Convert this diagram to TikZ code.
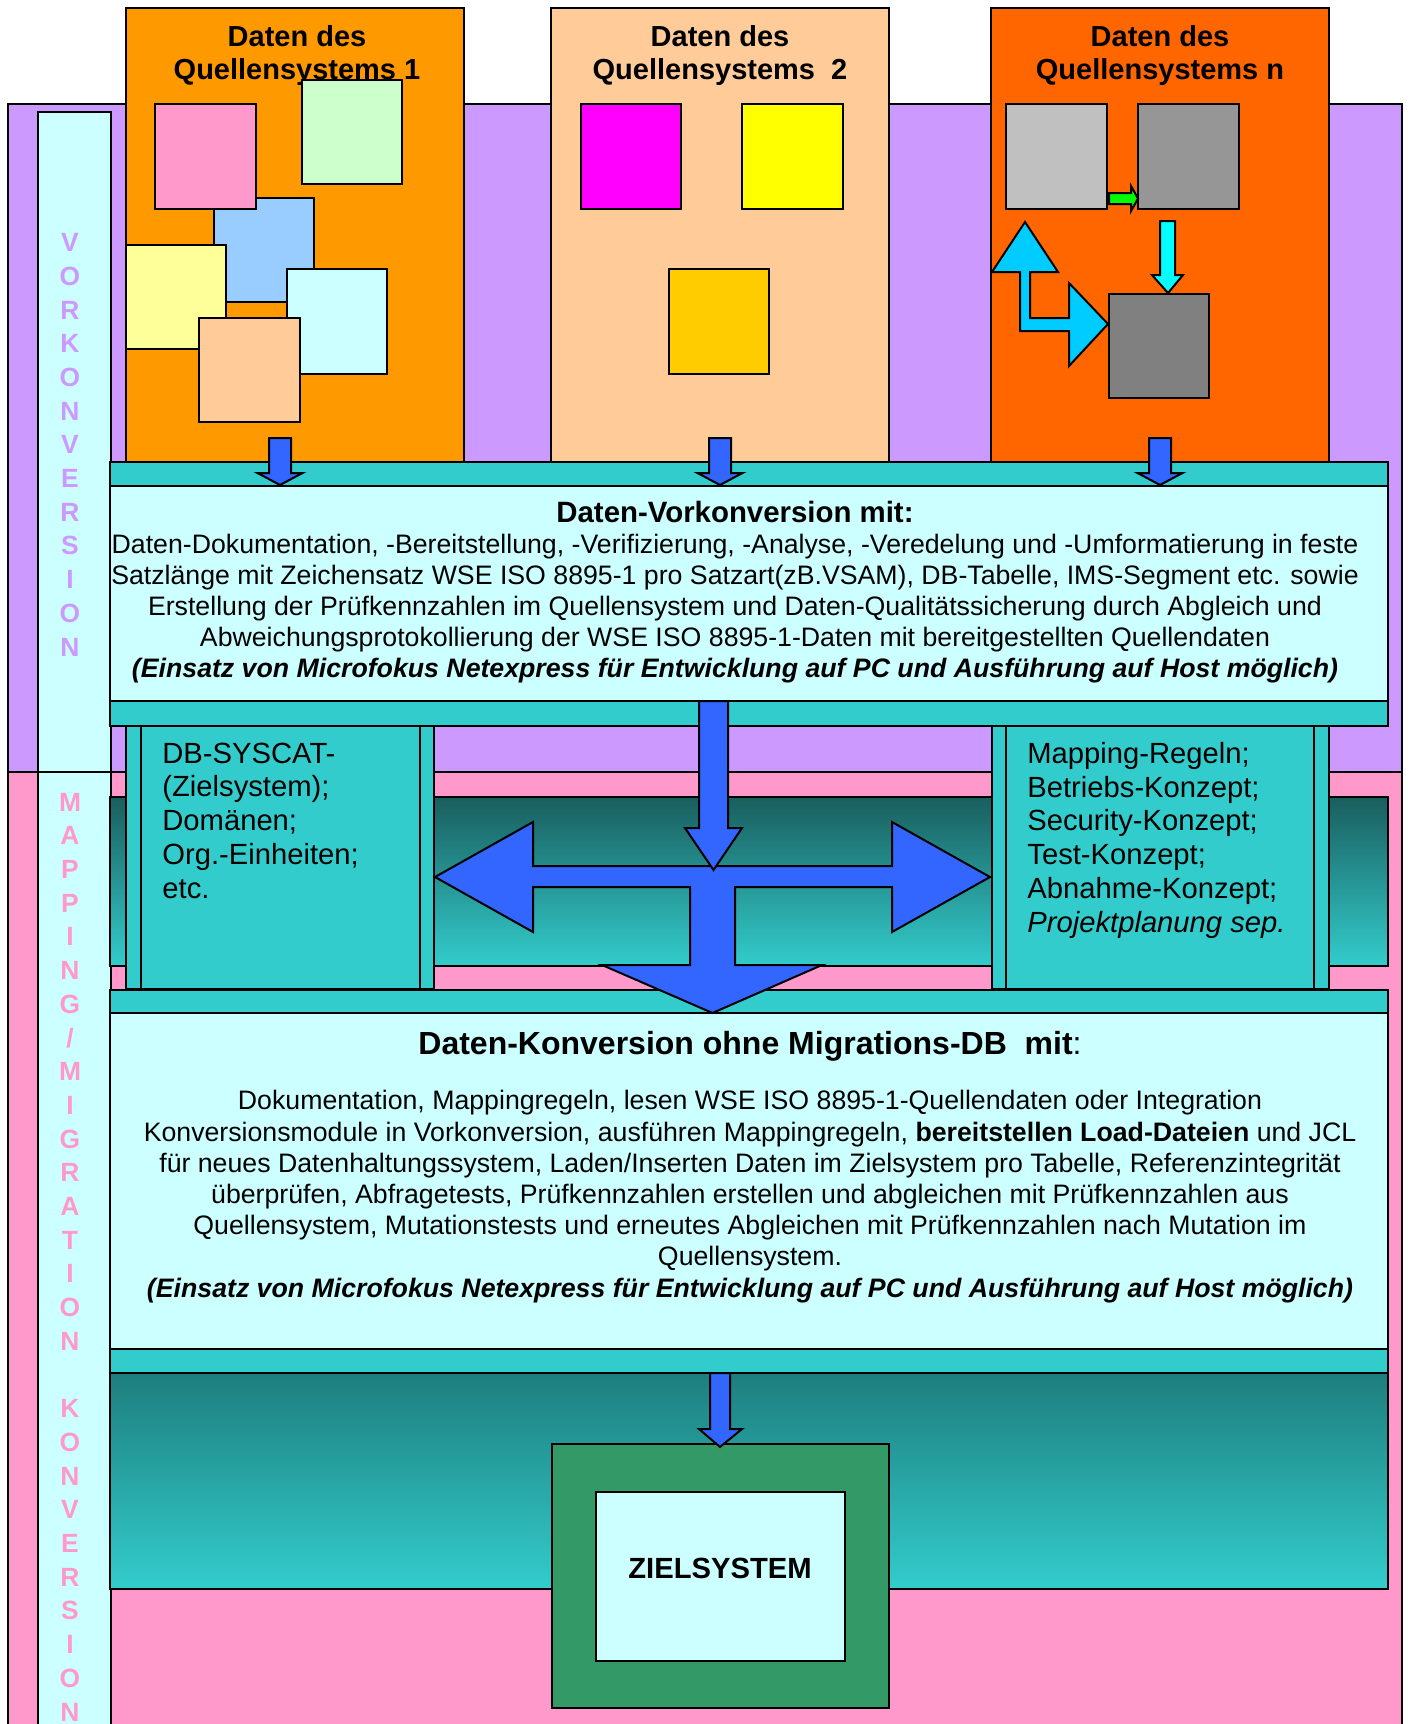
\documentclass[tikz,border=0pt]{standalone}
\usepackage{fontspec}
\setmainfont{Liberation Sans}
\definecolor{lila}{HTML}{CC99FF}
\definecolor{rosa}{HTML}{FF99CC}
\definecolor{hellcyan}{HTML}{CCFFFF}
\definecolor{tuerkis}{HTML}{33CCCC}
\definecolor{orangeA}{HTML}{FF9900}
\definecolor{pfirsich}{HTML}{FFCC99}
\definecolor{orangeN}{HTML}{FF6600}
\definecolor{hgruen}{HTML}{CCFFCC}
\definecolor{hblau}{HTML}{99CCFF}
\definecolor{hgelb}{HTML}{FFFF99}
\definecolor{magentaX}{HTML}{FF00FF}
\definecolor{gelbX}{HTML}{FFFF00}
\definecolor{goldX}{HTML}{FFCC00}
\definecolor{grauA}{HTML}{C0C0C0}
\definecolor{grauB}{HTML}{969696}
\definecolor{grauC}{HTML}{808080}
\definecolor{gruenPfeil}{HTML}{00FF00}
\definecolor{cyanPfeil}{HTML}{00FFFF}
\definecolor{himmel}{HTML}{00CCFF}
\definecolor{blauPfeil}{HTML}{3366FF}
\definecolor{zielgruen}{HTML}{339966}
\definecolor{dunkelA}{HTML}{1A5E5E}
\definecolor{dunkelB}{HTML}{1E7E7E}
\begin{document}
\begin{tikzpicture}[x=0.5pt,y=-0.5pt,line join=miter,
  box/.style={draw=black,line width=1pt},
  blockdown/.pic={\filldraw[box,fill=blauPfeil] (-11,0) -- (11,0) -- (11,35) -- (22.5,35) -- (0,47) -- (-22.5,35) -- (-11,35) -- cycle;},
  srctitle/.style={anchor=base,align=center,inner sep=0pt,font=\fontsize{14.5pt}{16.5pt}\selectfont\bfseries},
  vletters/.style={anchor=base,align=center,inner sep=0pt,font=\fontsize{13.2pt}{16.85pt}\selectfont\bfseries},
  coltext/.style={anchor=base west,align=left,inner sep=0pt,font=\fontsize{14.6pt}{16.85pt}\selectfont},
  bodytext/.style={anchor=base,align=center,inner sep=0pt}]
\useasboundingbox (0,0) rectangle (1409,1724);
\clip (0,0) rectangle (1409,1724);
\fill[white] (0,0) rectangle (1409,1724);
% backgrounds
\filldraw[box,fill=lila] (8,104) rectangle (1402,772);
\filldraw[box,fill=rosa] (8,772) rectangle (1402,1740);
\filldraw[box,fill=hellcyan] (38,112) rectangle (111,772);
\filldraw[box,fill=hellcyan] (38,772) rectangle (111,1740);
\node[vletters,text=lila] (vk) at (70,656) {V\\O\\R\\K\\O\\N\\V\\E\\R\\S\\I\\O\\N};
\node[vletters,text=rosa] (mk) at (70,1721) {M\\A\\P\\P\\I\\N\\G\\/\\M\\I\\G\\R\\A\\T\\I\\O\\N\\[16.85pt]K\\O\\N\\V\\E\\R\\S\\I\\O\\N};
% source systems
\filldraw[box,fill=orangeA] (126,8) rectangle (464,470);
\filldraw[box,fill=pfirsich] (551,8) rectangle (889,470);
\filldraw[box,fill=orangeN] (991,8) rectangle (1329,470);
\node[srctitle] (t1) at (297,79) {Daten des\\Quellensystems 1};
\node[srctitle] (t2) at (720,79) {Daten des\\Quellensystems\ \ 2};
\node[srctitle] (tn) at (1160,79) {Daten des\\Quellensystems n};
% system 1 boxes
\filldraw[box,fill=hblau] (214,198) rectangle (314,302);
\filldraw[box,fill=rosa] (155,104) rectangle (256,209);
\filldraw[box,fill=hgruen] (302,80) rectangle (402,184);
\filldraw[box,fill=hgelb] (126,245) rectangle (226,349);
\filldraw[box,fill=hellcyan] (287,269) rectangle (387,374);
\filldraw[box,fill=pfirsich] (199,318) rectangle (300,422);
% system 2 boxes
\filldraw[box,fill=magentaX] (581,104) rectangle (681,209);
\filldraw[box,fill=gelbX] (742,104) rectangle (843,209);
\filldraw[box,fill=goldX] (669,269) rectangle (769,374);
% system n boxes
\filldraw[box,fill=grauA] (1006,104) rectangle (1107,209);
\filldraw[box,fill=grauB] (1138,104) rectangle (1239,209);
\filldraw[box,fill=grauC] (1109,294) rectangle (1209,398);
\filldraw[box,fill=gruenPfeil] (1109,193) -- (1131,193) -- (1131,186) -- (1138,198.5) -- (1131,211) -- (1131,204) -- (1109,204) -- cycle;
\filldraw[box,fill=cyanPfeil] (1160,221) -- (1175,221) -- (1175,275) -- (1183,275) -- (1168,293) -- (1152,275) -- (1160,275) -- cycle;
\filldraw[box,fill=himmel] (1025,222) -- (1058,272) -- (1030,272) -- (1030,318) -- (1069,318) -- (1069,283) -- (1108,324) -- (1069,366) -- (1069,331) -- (1020,331) -- (1020,272) -- (992,272) -- cycle;
% middle band and columns
\shade[top color=dunkelA,bottom color=tuerkis] (110,797) rectangle (1388,966);
\draw[box] (110,797) rectangle (1388,966);
\filldraw[box,fill=tuerkis] (126,725) rectangle (434,989);
\draw[box] (141,725) -- (141,989) (420,725) -- (420,989);
\filldraw[box,fill=tuerkis] (992,725) rectangle (1329,989);
\draw[box] (1006,725) -- (1006,989) (1314,725) -- (1314,989);
\node[coltext] (cl) at (162,898) {DB-SYSCAT-\\(Zielsystem);\\Domänen;\\Org.-Einheiten;\\etc.};
\node[coltext] (cr) at (1027,932) {Mapping-Regeln;\\Betriebs-Konzept;\\Security-Konzept;\\Test-Konzept;\\Abnahme-Konzept;\\\textit{Projektplanung sep.}};
% Vorkonversion box
\filldraw[box,fill=tuerkis] (110,462) rectangle (1388,726);
\filldraw[box,fill=hellcyan] (110,486) rectangle (1388,701);
\node[bodytext,font=\fontsize{13.35pt}{15.5pt}\selectfont] (vtext) at (735,677) {{\fontsize{14.7pt}{15.5pt}\selectfont\bfseries Daten-Vorkonversion mit:}\\
Daten-Dokumentation, -Bereitstellung, -Verifizierung, -Analyse, -Veredelung und -Umformatierung in feste\\
Satzlänge mit Zeichensatz WSE ISO 8895-1 pro Satzart(zB.VSAM), DB-Tabelle, IMS-Segment etc. sowie\\
Erstellung der Prüfkennzahlen im Quellensystem und Daten-Qualitätssicherung durch Abgleich und\\
Abweichungsprotokollierung der WSE ISO 8895-1-Daten mit bereitgestellten Quellendaten\\
\textbf{\textit{(Einsatz von Microfokus Netexpress für Entwicklung auf PC und Ausführung auf Host möglich)}}};
\pic at (280,438) {blockdown};
\pic at (720,438) {blockdown};
\pic at (1160,438) {blockdown};
% Konversion box
\filldraw[box,fill=tuerkis] (110,990) rectangle (1388,1373);
\filldraw[box,fill=hellcyan] (110,1013) rectangle (1388,1349);
\node[bodytext,font=\fontsize{16pt}{18pt}\selectfont] (ktitle) at (750,1054) {\textbf{Daten-Konversion ohne Migrations-DB\ \ mit}:};
\node[bodytext,font=\fontsize{13.35pt}{15.6pt}\selectfont] (ktext) at (750,1297) {Dokumentation, Mappingregeln, lesen WSE ISO 8895-1-Quellendaten oder Integration\\
Konversionsmodule in Vorkonversion, ausführen Mappingregeln, \textbf{bereitstellen Load-Dateien} und JCL\\
für neues Datenhaltungssystem, Laden/Inserten Daten im Zielsystem pro Tabelle, Referenzintegrität\\
überprüfen, Abfragetests, Prüfkennzahlen erstellen und abgleichen mit Prüfkennzahlen aus\\
Quellensystem, Mutationstests und erneutes Abgleichen mit Prüfkennzahlen nach Mutation im\\
Quellensystem.\\
\textbf{\textit{(Einsatz von Microfokus Netexpress für Entwicklung auf PC und Ausführung auf Host möglich)}}};
% cross arrow
\filldraw[box,fill=blauPfeil] (435,877) -- (533,822) -- (533,866) -- (892,866) -- (892,822) -- (990,877) -- (892,932) -- (892,887) -- (735,887) -- (735,965) -- (822,965) -- (712.5,1013) -- (602,965) -- (690,965) -- (690,887) -- (533,887) -- (533,932) -- cycle;
\filldraw[box,fill=blauPfeil] (699,701) -- (728,701) -- (728,828) -- (742,828) -- (713.5,870) -- (685,828) -- (699,828) -- cycle;
% lower band and Zielsystem
\shade[top color=dunkelB,bottom color=tuerkis] (110,1373) rectangle (1388,1589);
\draw[box] (110,1373) rectangle (1388,1589);
\filldraw[box,fill=zielgruen] (552,1444) rectangle (889,1708);
\filldraw[box,fill=hellcyan] (596,1492) rectangle (845,1661);
\node[bodytext,font=\fontsize{14.6pt}{16pt}\selectfont\bfseries] (ziel) at (720,1578) {ZIELSYSTEM};
\filldraw[box,fill=blauPfeil] (710,1373) -- (730,1373) -- (730,1429) -- (742,1429) -- (720,1447) -- (699,1429) -- (710,1429) -- cycle;
\end{tikzpicture}
\end{document}
